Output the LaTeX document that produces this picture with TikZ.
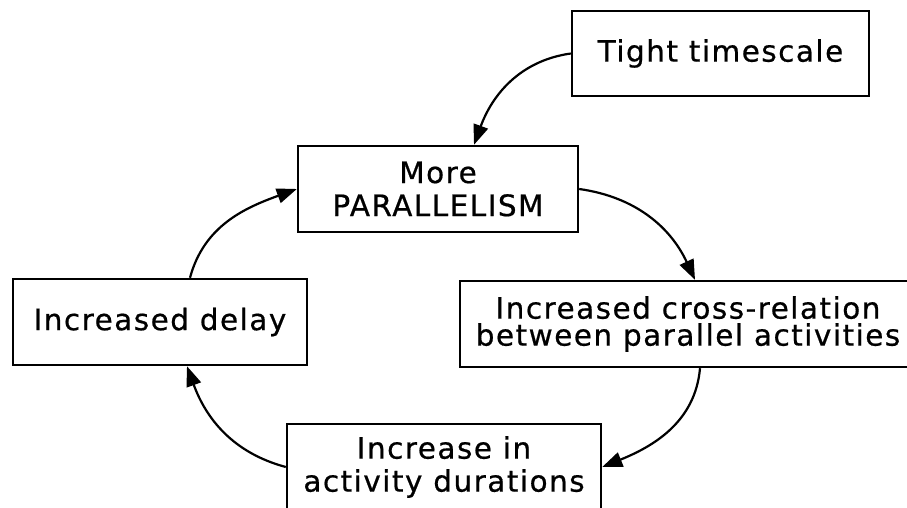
\documentclass[tikz,border=0pt]{standalone}
\usepackage{fontspec}
\setmainfont{DejaVu Sans}[LetterSpace=5,FakeBold=0.6]
\usetikzlibrary{arrows.meta,calc}
\begin{document}
\begin{tikzpicture}[x=1pt,y=1pt,
  box/.style={draw,line width=2.4pt,inner sep=0pt,align=center,
    font=\fontsize{29.5}{33}\selectfont},
  link/.style={line width=2.2pt,-{Triangle[length=20pt,width=15pt]}}]
\useasboundingbox (0,0) rectangle (907,-508);

% boxes of the cycle
\node[box,minimum width=297pt,minimum height=85pt] (tight) at (720.5,-53.5) {Tight timescale};
\node[box,minimum width=280pt,minimum height=86pt] (par) at (438,-189) {More\\PARALLELISM};
\node[box,minimum width=456pt,minimum height=86pt,
  font=\fontsize{29.5}{27}\selectfont] (cross) at (688,-324)
  {Increased cross-relation\\between parallel activities};
\node[box,minimum width=314pt,minimum height=86pt] (dur) at (444,-467)
  {Increase in\\activity durations};
\node[box,minimum width=294pt,minimum height=86pt] (delay) at (160,-322) {Increased delay};

% feedback arrows
\draw[link] (tight.west) to[out=188,in=70] ($(par.north)+(36,0)$);
\draw[link] (par.east) to[out=-8,in=115] ($(cross.north)+(7,0)$);
\draw[link] ($(cross.south)+(12,0)$) to[out=-95,in=22] (dur.east);
\draw[link] (dur.west) to[out=165,in=-70] ($(delay.south)+(27,0)$);
\draw[link] ($(delay.north)+(30,0)$) to[out=75,in=200] (par.west);
\end{tikzpicture}
\end{document}
